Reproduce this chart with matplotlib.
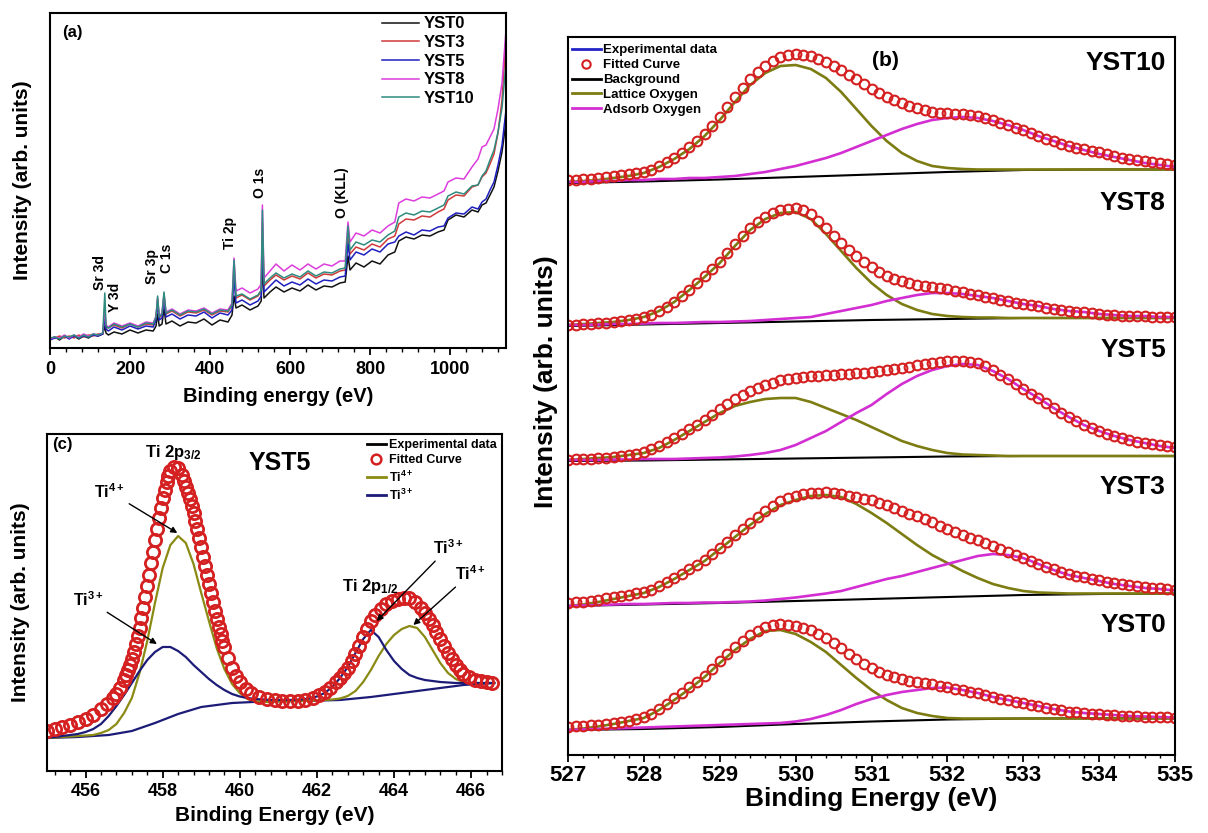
import matplotlib
matplotlib.use('Agg')
import matplotlib.pyplot as plt
from matplotlib.lines import Line2D
from matplotlib.ticker import MultipleLocator
from matplotlib import font_manager

# ---------------- data: panel (a) survey spectra ----------------
survey_energy = [0, 12, 24, 36, 48, 60, 72, 84, 96, 108, 120, 132, 137, 140, 146, 160, 180, 200, 220, 240,
                 258, 265, 269, 273, 280, 285, 290, 305, 325, 345, 365, 385, 405, 425, 445, 455, 460, 465, 480, 500,
                 520, 528, 531, 535, 550, 565, 585, 605, 625, 645, 665, 685, 705, 725, 738, 745, 750, 765, 785, 805,
                 825, 845, 862, 872, 890, 910, 930, 950, 970, 985, 995, 1015, 1035, 1055, 1070, 1080, 1090, 1100, 1110, 1120,
                 1130, 1140]
survey_yst0 = [9, 11, 8, 12, 10, 12, 9, 12, 10, 13,
               12, 14, 22, 15, 13, 16, 14, 18, 15, 18,
               17, 22, 34, 22, 24, 40, 24, 27, 22, 26,
               25, 29, 23, 28, 26, 33, 52, 40, 43, 38,
               42, 47, 85, 50, 56, 61, 56, 60, 57, 63,
               58, 62, 61, 65, 66, 92, 78, 85, 81, 87,
               84, 93, 96, 107, 111, 109, 113, 112, 116, 118,
               128, 133, 131, 138, 136, 143, 145, 153, 161, 177,
               196, 226]
survey_yst3 = [9, 10, 12, 10, 12, 10, 13, 11, 13, 12,
               14, 14, 35, 21, 20, 23, 20, 24, 21, 24,
               23, 30, 48, 30, 33, 52, 34, 37, 32, 36,
               35, 38, 33, 37, 36, 42, 80, 50, 53, 48,
               52, 57, 125, 62, 68, 73, 68, 72, 69, 75,
               70, 74, 73, 77, 78, 115, 94, 101, 98, 104,
               101, 109, 112, 124, 129, 128, 132, 131, 136, 139,
               148, 153, 152, 161, 163, 171, 175, 184, 194, 215,
               248, 310]
survey_yst5 = [8, 10, 10, 12, 9, 12, 10, 12, 11, 13,
               12, 14, 30, 19, 17, 21, 18, 22, 19, 22,
               21, 28, 45, 28, 30, 48, 31, 34, 29, 33,
               32, 36, 30, 35, 33, 38, 70, 45, 48, 43,
               47, 52, 110, 56, 62, 68, 62, 66, 63, 69,
               64, 68, 67, 71, 72, 105, 88, 96, 93, 99,
               96, 104, 106, 112, 116, 113, 118, 117, 121, 122,
               130, 135, 134, 141, 139, 146, 149, 158, 166, 183,
               203, 238]
survey_yst8 = [9, 11, 10, 13, 10, 13, 11, 14, 12, 14,
               13, 15, 40, 23, 21, 25, 22, 25, 22, 26,
               25, 32, 50, 32, 35, 54, 36, 39, 34, 38,
               37, 40, 35, 39, 38, 45, 90, 57, 60, 55,
               59, 64, 143, 70, 77, 84, 77, 83, 78, 84,
               79, 84, 82, 87, 87, 126, 106, 115, 112, 118,
               115, 122, 126, 145, 149, 147, 151, 150, 154, 157,
               166, 170, 169, 181, 189, 201, 203, 211, 219, 239,
               265, 318]
survey_yst10 = [10, 11, 9, 12, 11, 13, 10, 13, 11, 14,
                13, 15, 55, 22, 20, 24, 21, 24, 21, 25,
                24, 31, 52, 31, 34, 56, 35, 38, 33, 37,
                36, 39, 34, 38, 37, 43, 88, 52, 54, 49,
                53, 58, 138, 64, 70, 75, 70, 74, 71, 77,
                72, 76, 75, 79, 80, 122, 98, 106, 103, 108,
                106, 113, 117, 131, 135, 133, 137, 136, 140, 143,
                152, 156, 154, 162, 163, 172, 177, 188, 198, 216,
                240, 285]
survey_names = ['YST0', 'YST3', 'YST5', 'YST8', 'YST10']
peak_labels = ['Sr 3d', 'Y 3d', 'Sr 3p', 'C 1s', 'Ti 2p', 'O 1s', 'O (KLL)']

# ---------------- data: panel (b) O 1s ----------------
# fitted-curve markers (0.1 eV sampling)
o1s_fit_energy = [527.0, 527.1, 527.2, 527.3, 527.4, 527.5, 527.6, 527.7, 527.8, 527.9,
                  528.0, 528.1, 528.2, 528.3, 528.4, 528.5, 528.6, 528.7, 528.8, 528.9,
                  529.0, 529.1, 529.2, 529.3, 529.4, 529.5, 529.6, 529.7, 529.8, 529.9,
                  530.0, 530.1, 530.2, 530.3, 530.4, 530.5, 530.6, 530.7, 530.8, 530.9,
                  531.0, 531.1, 531.2, 531.3, 531.4, 531.5, 531.6, 531.7, 531.8, 531.9,
                  532.0, 532.1, 532.2, 532.3, 532.4, 532.5, 532.6, 532.7, 532.8, 532.9,
                  533.0, 533.1, 533.2, 533.3, 533.4, 533.5, 533.6, 533.7, 533.8, 533.9,
                  534.0, 534.1, 534.2, 534.3, 534.4, 534.5, 534.6, 534.7, 534.8, 534.9, 535.0]
# component lines (0.2 eV sampling)
o1s_energy = [527.0, 527.2, 527.4, 527.6, 527.8, 528.0, 528.2, 528.4, 528.6, 528.8,
              529.0, 529.2, 529.4, 529.6, 529.8, 530.0, 530.2, 530.4, 530.6, 530.8,
              531.0, 531.2, 531.4, 531.6, 531.8, 532.0, 532.2, 532.4, 532.6, 532.8,
              533.0, 533.2, 533.4, 533.6, 533.8, 534.0, 534.2, 534.4, 534.6, 534.8, 535.0]
o1s_bg_energy = [527, 528, 529, 530, 531, 532, 533, 534, 535]
o1s_samples = ['YST10', 'YST8', 'YST5', 'YST3', 'YST0']
o1s_offset = [573, 430, 295, 152, 28]

fit_yst10 = [2, 2.5, 3, 3.5, 4, 5, 6, 7, 8, 9,
             10, 12.5, 16, 20, 24, 29, 35, 41, 48, 56,
             65, 75, 85, 94, 103, 110, 116, 121, 125, 127,
             128, 127.5, 126, 123.5, 120, 116, 112, 107.5, 103, 98,
             93, 89, 85, 82, 79, 76.5, 74, 72, 70, 69.5,
             69, 68.5, 68, 67, 66, 64, 62, 59.5, 57, 54.5,
             52, 49, 46, 43.5, 41, 38.5, 36, 34.5, 33, 31.5,
             30, 28, 26, 24.5, 23, 22, 21, 20, 19, 18, 17]
lat_yst10 = [0, 1, 2, 4, 6, 9, 15, 23, 33, 46, 62, 80, 97, 109, 116, 117, 113, 104, 90, 73,
             56, 41, 29, 21, 16, 14, 13, 12.5, 12.5, 12.5, 12.5, 12.5, 12.5, 12.5, 12.5, 12.5, 12.5, 12.5, 12.5, 12.5, 12.5]
ads_yst10 = [0, 0, 1, 1, 2, 2, 3, 3, 4, 4, 5, 6, 8, 10, 13, 16, 20, 24, 29, 35,
             41, 47, 53, 58, 62, 64, 65, 64, 61, 57, 52, 46, 41, 36, 32, 28, 25, 22, 19, 17, 15]
bg_yst10 = [-1, 0.5, 2.5, 5, 7.5, 10, 12, 12.5, 12.5]

fit_yst8 = [0, 0.5, 1, 1.5, 2, 2.5, 3, 4, 5, 6.5,
            8, 10.5, 14, 18, 23, 29, 35, 42, 49, 56,
            63, 72, 81, 89, 97, 103, 108, 112, 115, 116.5,
            117, 115, 111, 104.5, 97, 89.5, 82, 75.5, 69, 63,
            58, 53, 49, 46, 44, 42, 40, 39, 38, 37,
            36, 34.5, 33, 31.5, 30, 28.5, 27, 25.5, 24, 22.5,
            21, 20, 19, 17.5, 16, 15, 14, 13.5, 13, 12,
            11, 10.5, 10, 9.5, 9, 9, 9, 8.5, 8, 8, 8]
lat_yst8 = [0, 1, 2, 3, 5, 8, 14, 23, 35, 48, 62, 79, 95, 106, 112, 113, 106, 91, 74, 57,
            42, 30, 21, 15, 11, 9, 8, 7.5, 7.5, 7, 7, 7, 7, 7, 7, 7, 7, 7, 7, 7, 7]
ads_yst8 = [0, 0, 0.5, 1, 1, 1.5, 2, 2, 2.5, 3, 3, 3.5, 4, 5, 6, 7, 8, 11, 14, 17,
            20, 24, 27, 30, 32, 32, 31, 29, 27, 24, 21, 19, 16, 14, 13, 11, 10, 9, 9, 8, 8]
bg_yst8 = [-1, 0.5, 2, 3.5, 5, 6, 7, 7, 7]

fit_yst5 = [0.5, 0.8, 1, 1.5, 2, 2.5, 3, 4, 5, 6.5,
            8, 11, 14, 18, 22, 26.5, 31, 35.5, 40, 45.5,
            51, 56, 61, 65, 69, 72, 75, 77.5, 80, 81,
            82, 83, 84, 84.5, 85, 85.5, 86, 86.5, 87, 87.5,
            88, 89, 90, 91, 92, 93.5, 95, 96, 97, 98,
            99, 99.5, 99, 98, 97, 94, 90, 85.5, 81, 76,
            71, 66.5, 62, 57, 52, 47.5, 43, 39, 35, 32,
            29, 26.5, 24, 22, 20, 18.5, 17, 16, 15, 14, 13]
lat_yst5 = [0, 1, 2, 3, 5, 7, 12, 20, 29, 38, 47, 54, 58, 61, 62, 62, 58, 52, 46, 40,
            33, 26, 19, 14, 10, 7, 5.5, 5, 4.5, 4, 4, 4, 4, 4, 4, 4, 4, 4, 4, 4, 4]
ads_yst5 = [0, 0, 0, 0.5, 0.5, 1, 1, 1, 1.5, 2, 2.5, 3.5, 5, 7, 10, 15, 22, 29, 38, 47,
            55, 66, 76, 84, 90, 94, 96, 95, 89, 81, 71, 62, 52, 43, 35, 29, 24, 20, 17, 14, 12]
bg_yst5 = [-1, -0.5, 0.5, 1.5, 2.5, 3.5, 4, 4, 4]

fit_yst3 = [0, 0.8, 1.5, 2.5, 3.5, 4.8, 6, 7.2, 8.5, 9.7,
            11, 13.5, 17, 21, 25, 29.5, 34, 38.5, 43, 49,
            55, 61.5, 68, 74, 80, 86, 92, 97, 102, 105,
            107, 109, 110, 110.5, 111, 110, 109, 107.5, 106, 104.5,
            103, 100.5, 98, 95, 92, 89.5, 87, 84, 81, 77.5,
            74, 71, 68, 65.5, 63, 60, 57, 54, 51, 48,
            45, 42, 39, 36.5, 34, 31.5, 29, 27.5, 26, 24.5,
            23, 21.5, 20, 19, 18, 17, 16, 15.5, 15, 14.2, 13.5]
lat_yst3 = [-3, -1.5, 1, 4, 7, 10, 16, 24, 33, 42, 54, 66, 78, 89, 98, 103, 107, 108, 106, 99,
            90, 80, 69, 58, 48, 40, 32, 25, 19, 15, 12, 10.5, 10, 9.5, 9.5, 9.5, 9.5, 9.5, 9.5, 9.5, 9.5]
ads_yst3 = [-3, -2.5, -2, -1.5, -1, -1, -0.5, 0, 0, 0.5, 0.5, 1, 1.5, 2.5, 4, 5.5, 7.5, 9.5, 12, 16,
            20, 24, 27, 31, 35, 39, 43, 47, 49, 48, 45, 39, 33, 28, 25, 22, 19, 17, 15, 14, 12.5]
bg_yst3 = [-3, -1.5, 0, 2, 4, 6, 8, 9, 9.5]

fit_yst0 = [0.5, 1, 1.5, 2, 2.5, 3.2, 4, 5.2, 6.5, 8,
            10, 13.5, 18, 23.5, 29, 34.5, 40, 45.5, 51, 58.5,
            66, 73, 80, 86, 92, 96.5, 100, 102, 103, 102.5,
            101, 99, 97, 93.5, 89, 84, 79, 73.5, 68, 63.5,
            59, 55.5, 52, 50, 48, 46.5, 45, 44, 43, 41.5,
            40, 38.5, 37, 35.5, 34, 32, 30, 28.5, 27, 25.5,
            24, 22.5, 21, 19.5, 18, 16.8, 15.5, 14.8, 14, 13.5,
            13, 12.5, 12, 11.5, 11, 10.8, 10.5, 10.2, 10, 9.8, 9.5]
lat_yst0 = [-3, -1.5, 0.5, 3, 6, 9, 17, 27, 38, 50, 64, 77, 88, 96, 97, 93, 85, 75, 62, 49,
            37, 27, 19, 14, 11, 9, 8.5, 8.5, 8.5, 8.5, 8.5, 8.5, 8.5, 8.5, 8.5, 8.5, 8.5, 8.5, 8.5, 8.5, 8.5]
ads_yst0 = [-3, -2.5, -2, -1.5, -1, -0.5, 0, 0.5, 1, 1.5, 2, 2.5, 3, 3.5, 4, 5.5, 8, 12, 17, 23,
            28, 32, 35, 37, 39, 39.5, 37, 34, 30, 27, 24, 21, 18, 15.5, 14, 13, 12, 11, 10.5, 10, 9.5]
bg_yst0 = [-3, -2, 0, 3, 5.5, 7.5, 8.5, 8.7, 8.7]

# ---------------- data: panel (c) Ti 2p of YST5 ----------------
ti_fit_energy = [455.0, 455.2, 455.4, 455.6, 455.8, 456.0, 456.2, 456.4, 456.55, 456.7,
                 456.8, 456.9, 457.0, 457.05, 457.1, 457.15, 457.2, 457.25, 457.3, 457.35,
                 457.4, 457.45, 457.5, 457.55, 457.6, 457.65, 457.7, 457.75, 457.8, 457.85,
                 457.9, 457.95, 458.0, 458.05, 458.1, 458.15, 458.2, 458.3, 458.4, 458.5,
                 458.55, 458.6, 458.65, 458.7, 458.75, 458.8, 458.85, 458.9, 458.95, 459.0,
                 459.05, 459.1, 459.15, 459.2, 459.25, 459.3, 459.35, 459.4, 459.45, 459.5,
                 459.55, 459.6, 459.7, 459.8, 459.9, 460.0, 460.15, 460.3, 460.5, 460.7,
                 460.9, 461.1, 461.3, 461.5, 461.7, 461.9, 462.05, 462.2, 462.35, 462.5,
                 462.6, 462.7, 462.8, 462.9, 463.0, 463.1, 463.2, 463.3, 463.4, 463.5,
                 463.65, 463.8, 463.95, 464.1, 464.25, 464.4, 464.55, 464.7, 464.8, 464.9,
                 465.0, 465.1, 465.2, 465.3, 465.4, 465.5, 465.6, 465.7, 465.8, 465.95,
                 466.1, 466.25, 466.4, 466.55]
ti_fit = [40, 42, 44, 46, 49, 52, 56, 62, 67, 73,
          77, 83, 91, 96, 101, 106, 112, 119, 127, 135,
          143, 153, 163, 174, 185, 196, 208, 219, 231, 242,
          253, 263, 273, 281, 289, 295, 300, 304, 303, 296,
          290.5, 284, 278, 272, 265, 258, 250, 242, 233, 224,
          214.5, 205, 196, 187, 178, 169, 160.5, 152, 144.5, 137,
          130.5, 124, 113, 103, 95, 89, 82.5, 78, 74.5, 72.5,
          71.5, 70.5, 70.5, 70.5, 71.5, 73.5, 76, 79, 83.5, 89,
          93, 98, 103, 110, 117, 125, 134, 142, 150, 156,
          162.5, 167, 170, 172, 173.2, 173, 169.5, 163, 158, 152,
          146, 139, 132, 125, 118, 112, 106, 101, 97, 94,
          91.5, 89.8, 89, 88.3]
ti_energy = [455.0, 455.2, 455.4, 455.6, 455.8, 456.0, 456.2, 456.4, 456.6, 456.8,
             457.0, 457.2, 457.4, 457.6, 457.8, 458.0, 458.2, 458.4, 458.6, 458.8,
             459.0, 459.2, 459.4, 459.6, 459.8, 460.0, 460.2, 460.4, 460.6, 460.8,
             461.0, 461.2, 461.4, 461.6, 461.8, 462.0, 462.2, 462.4, 462.6, 462.8,
             463.0, 463.2, 463.4, 463.6, 463.8, 464.0, 464.2, 464.4, 464.6, 464.8,
             465.0, 465.2, 465.4, 465.6, 465.8, 466.0, 466.2, 466.4, 466.6]
ti4 = [33, 33.5, 34, 34.5, 35, 35.5, 36, 38, 41, 47, 58, 73, 98, 130, 168, 203, 226, 235, 228, 207,
       178, 150, 123, 102, 87, 78, 72, 70, 69, 69, 69.5, 69.5, 70, 70, 70.5, 70.5, 71, 71.5, 72.5, 75,
       80, 89, 101, 115, 127, 136, 142, 145, 143, 134, 121, 108, 98, 92, 89, 88, 88, 88, 88]
ti3 = [33, 34, 35, 36, 37, 39, 42, 47, 55, 65, 76, 88, 100, 111, 119, 124, 124, 120, 114, 106,
       99, 92, 86, 81, 77, 74.5, 73, 72, 71.5, 71, 71, 71, 71, 71.5, 72.5, 74.5, 78, 84, 93, 104,
       118, 132, 141, 134, 121, 110, 102, 96, 93, 91, 90, 89, 88.5, 88, 88, 88, 88, 88, 88]
ti_bg_energy = [455.0, 455.8, 456.6, 457.2, 457.8, 458.4, 459.0, 459.8, 460.6, 461.6, 462.6, 463.4,
                464.2, 465.0, 465.8, 466.6]
ti_bg = [33, 34, 36, 40, 48, 57, 64, 68, 69.5, 70, 71, 74, 78, 82, 86, 88]

# ---------------- fonts ----------------
names = {f.name for f in font_manager.fontManager.ttflist}
BASE = 'Liberation Sans' if 'Liberation Sans' in names else 'DejaVu Sans'
NARROW = 'Liberation Sans Narrow' if 'Liberation Sans Narrow' in names else BASE
plt.rcParams['font.family'] = [BASE, 'DejaVu Sans']
plt.rcParams['font.weight'] = 'bold'
plt.rcParams['mathtext.fontset'] = 'custom'
plt.rcParams['mathtext.rm'] = BASE + ':bold'
plt.rcParams['mathtext.it'] = BASE + ':bold'
plt.rcParams['mathtext.bf'] = BASE + ':bold'
plt.rcParams['mathtext.sf'] = BASE + ':bold'
plt.rcParams['mathtext.default'] = 'rm'

W, H = 1208, 833
fig = plt.figure(figsize=(W / 100, H / 100), dpi=100)


def rect(x0, y0, x1, y1):
    return [x0 / W, 1 - y1 / H, (x1 - x0) / W, (y1 - y0) / H]


def style_axes(ax, lw=1.5):
    for s in ax.spines.values():
        s.set_linewidth(lw)
        s.set_color('black')
    ax.set_yticks([])


# ---------------- panel (a) ----------------
axA = fig.add_axes(rect(50, 13, 506, 348))
style_axes(axA)
survey_series = [survey_yst0, survey_yst3, survey_yst5, survey_yst8, survey_yst10]
survey_colors = ['#111111', '#d03a3a', '#1f1fbf', '#dd3ddd', '#2e8b7f']
for nm, ys, c in zip(survey_names, survey_series, survey_colors):
    axA.plot(survey_energy, ys, color=c, lw=1.1, label=nm)
axA.set_xlim(0, 1140)
axA.set_ylim(0, 335)
axA.xaxis.set_major_locator(MultipleLocator(200))
axA.xaxis.set_minor_locator(MultipleLocator(40))
axA.tick_params(axis='x', which='major', direction='out', length=5, width=1.3, labelsize=13, pad=4)
axA.tick_params(axis='x', which='minor', direction='out', length=3, width=1.0)
axA.set_xlabel('Binding energy (eV)', fontsize=14.5, fontweight='bold')
axA.xaxis.set_label_coords(0.5, -0.115)
axA.set_ylabel('Intensity (arb. units)', fontsize=15, fontweight='bold')
axA.yaxis.set_label_coords(-0.04, 0.5)
axA.text(55, 316, '(a)', fontsize=12, fontweight='bold', ha='center', va='center')
label_pos = [(125, 75), (162, 51), (255, 81), (292, 90), (450, 115), (525, 165), (730, 155)]
for s, (lx, ly) in zip(peak_labels, label_pos):
    axA.text(lx, ly, s, rotation=90, ha='center', va='center', fontsize=10, fontweight='bold')
axA.legend(loc='upper left', bbox_to_anchor=(0.728, 0.99), frameon=False, borderpad=0, borderaxespad=0,
           handlelength=2.2, handletextpad=0.3, labelspacing=0.22, prop={'weight': 'bold', 'size': 12})

# ---------------- panel (b) ----------------
axB = fig.add_axes(rect(568, 37, 1175, 755))
style_axes(axB)
fits = [fit_yst10, fit_yst8, fit_yst5, fit_yst3, fit_yst0]
lats = [lat_yst10, lat_yst8, lat_yst5, lat_yst3, lat_yst0]
adss = [ads_yst10, ads_yst8, ads_yst5, ads_yst3, ads_yst0]
bgs = [bg_yst10, bg_yst8, bg_yst5, bg_yst3, bg_yst0]
label_h = [692, 552, 405, 268, 130]
OLIVE = '#7c7c12'
MAG = '#d22ed2'
RED = '#d42020'
for nm, off, fy, ly, ay, by, lh in zip(o1s_samples, o1s_offset, fits, lats, adss, bgs, label_h):
    axB.plot(o1s_bg_energy, [off + v for v in by], color='black', lw=1.5)
    axB.plot(o1s_energy, [off + v for v in ly], color=OLIVE, lw=1.9)
    axB.plot(o1s_energy, [off + v for v in ay], color=MAG, lw=1.9)
    axB.plot(o1s_fit_energy, [off + v for v in fy], 'o', mfc='none', mec=RED, ms=7, mew=1.5)
    axB.text(534.88, lh, nm, ha='right', va='center', fontsize=19, fontweight='bold', family=[NARROW, 'DejaVu Sans'])
axB.set_xlim(527, 535)
axB.set_ylim(0, 718)
axB.xaxis.set_major_locator(MultipleLocator(1))
axB.xaxis.set_minor_locator(MultipleLocator(0.2))
axB.tick_params(axis='x', which='major', direction='out', length=5, width=1.3, labelsize=16, pad=2)
axB.tick_params(axis='x', which='minor', direction='out', length=2.5, width=1.0)
for t in axB.get_xticklabels():
    t.set_family([NARROW, 'DejaVu Sans'])
    t.set_fontweight('bold')
axB.set_xlabel('Binding Energy (eV)', fontsize=19, fontweight='bold', family=[NARROW, 'DejaVu Sans'])
axB.xaxis.set_label_coords(0.5, -0.045)
axB.set_ylabel('Intensity (arb. units)', fontsize=19, fontweight='bold', family=[NARROW, 'DejaVu Sans'])
axB.yaxis.set_label_coords(-0.016, 0.52)
axB.text(531.18, 695, '(b)', fontsize=15, fontweight='bold', ha='center', va='center')
hb = [Line2D([], [], color='#2323c8', lw=2),
      Line2D([], [], ls='none', marker='o', mfc='none', mec=RED, ms=6, mew=1.5),
      Line2D([], [], color='black', lw=2),
      Line2D([], [], color=OLIVE, lw=2),
      Line2D([], [], color=MAG, lw=2)]
axB.legend(hb, ['Experimental data', 'Fitted Curve', 'Background', 'Lattice Oxygen', 'Adsorb Oxygen'],
           loc='upper left', bbox_to_anchor=(0.006, 0.99), frameon=False, borderpad=0, borderaxespad=0,
           handlelength=2.2, handletextpad=0.2, labelspacing=0.2,
           prop={'weight': 'bold', 'size': 9.5, 'family': [NARROW, 'DejaVu Sans']})

# ---------------- panel (c) ----------------
axC = fig.add_axes(rect(47, 434, 502, 771))
style_axes(axC)
NAVY = '#1c1c78'
axC.plot(ti_bg_energy, ti_bg, color=NAVY, lw=1.6)
axC.plot(ti_energy, ti4, color='#8a8a14', lw=1.6)
axC.plot(ti_energy, ti3, color=NAVY, lw=1.6)
axC.plot(ti_fit_energy, ti_fit, 'o', mfc='none', mec=RED, ms=8.8, mew=2)
axC.set_xlim(455, 466.8)
axC.set_ylim(0, 337)
axC.xaxis.set_major_locator(MultipleLocator(2))
axC.xaxis.set_minor_locator(MultipleLocator(0.4))
axC.tick_params(axis='x', which='major', direction='out', length=5, width=1.3, labelsize=13, pad=4)
axC.tick_params(axis='x', which='minor', direction='out', length=3, width=1.0)
axC.set_xlabel('Binding Energy (eV)', fontsize=15, fontweight='bold')
axC.xaxis.set_label_coords(0.5, -0.105)
axC.set_ylabel('Intensity (arb. units)', fontsize=15, fontweight='bold')
axC.yaxis.set_label_coords(-0.037, 0.5)
axC.text(455.41, 326, '(c)', fontsize=12, fontweight='bold', ha='center', va='center')
axC.text(458.27, 319, 'Ti 2p$_{3/2}$', fontsize=12, fontweight='bold', ha='center', va='center')
axC.text(463.38, 184, 'Ti 2p$_{1/2}$', fontsize=12, fontweight='bold', ha='center', va='center')
axC.text(461.04, 308, 'YST5', fontsize=18, fontweight='bold', ha='center', va='center')
arrow = dict(arrowstyle='-|>', color='black', lw=1.0, mutation_scale=9, shrinkA=1, shrinkB=0)
axC.annotate('Ti$^{4+}$', xy=(458.38, 238), xytext=(456.63, 279), fontsize=11.5, ha='center', va='center', arrowprops=arrow)
axC.annotate('Ti$^{3+}$', xy=(457.85, 127), xytext=(456.06, 171), fontsize=11.5, ha='center', va='center', arrowprops=arrow)
axC.annotate('Ti$^{3+}$', xy=(463.55, 150), xytext=(465.4, 223), fontsize=11.5, ha='center', va='center', arrowprops=arrow)
axC.annotate('Ti$^{4+}$', xy=(464.5, 146), xytext=(465.97, 197), fontsize=11.5, ha='center', va='center', arrowprops=arrow)
hc = [Line2D([], [], color='black', lw=2),
      Line2D([], [], ls='none', marker='o', mfc='none', mec=RED, ms=7, mew=1.8),
      Line2D([], [], color='#8a8a14', lw=2),
      Line2D([], [], color=NAVY, lw=2)]
axC.legend(hc, ['Experimental data', 'Fitted Curve', 'Ti$^{4+}$', 'Ti$^{3+}$'],
           loc='upper left', bbox_to_anchor=(0.703, 0.985), frameon=False, borderpad=0, borderaxespad=0,
           handlelength=1.5, handletextpad=0.25, labelspacing=0.25, prop={'weight': 'bold', 'size': 9})

fig.savefig('out.png', dpi=100)
